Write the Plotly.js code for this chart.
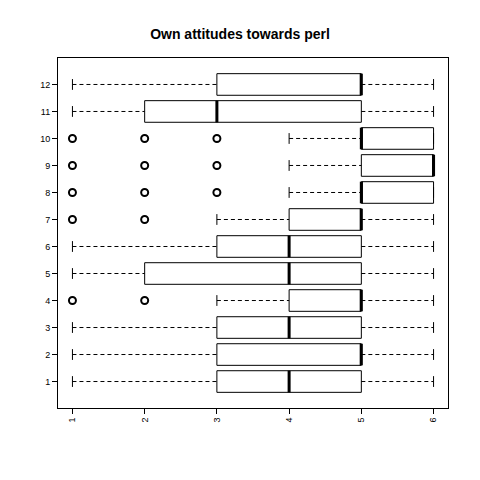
<!DOCTYPE html>
<html>
<head>
<script src="https://cdn.plot.ly/plotly-3.0.1.min.js"></script>
<style>body{margin:0;background:#fff}</style>
</head>
<body>
<div id="plot" style="width:480px;height:480px"></div>
<script>
var groups = [1, 2, 3, 4, 5, 6, 7, 8, 9, 10, 11, 12];
var lowWhisker = [1, 1, 1, 3, 1, 1, 3, 4, 4, 4, 1, 1];
var q1 = [3, 3, 3, 4, 2, 3, 4, 5, 5, 5, 2, 3];
var medians = [4, 5, 4, 5, 4, 4, 5, 5, 6, 5, 3, 5];
var q3 = [5, 5, 5, 5, 5, 5, 5, 6, 6, 6, 5, 5];
var highWhisker = [6, 6, 6, 6, 6, 6, 6, 6, 6, 6, 6, 6];
var outliers = [[], [], [], [1, 2], [], [], [1, 2], [1, 2, 3], [1, 2, 3], [1, 2, 3], [], []];

var boxHalf = 0.4, capHalf = 0.2;
var wx = [], wy = [], cx = [], cy = [], mx = [], my = [], ox = [], oy = [];
groups.forEach(function (g, i) {
  wx.push(lowWhisker[i], q1[i], null, q3[i], highWhisker[i], null);
  wy.push(g, g, null, g, g, null);
  cx.push(lowWhisker[i], lowWhisker[i], null, highWhisker[i], highWhisker[i], null);
  cy.push(g - capHalf, g + capHalf, null, g - capHalf, g + capHalf, null);
  mx.push(medians[i], medians[i], null);
  my.push(g - boxHalf, g + boxHalf, null);
  outliers[i].forEach(function (v) { ox.push(v); oy.push(g); });
});

var data = [
  {type: 'box', orientation: 'h', y: groups, q1: q1, median: medians, q3: q3,
   lowerfence: q1, upperfence: q3, width: 0.8, fillcolor: 'rgba(0,0,0,0)',
   line: {color: 'black', width: 1}, whiskerwidth: 0, boxpoints: false, hoverinfo: 'skip'},
  {type: 'scatter', mode: 'lines', x: wx, y: wy, line: {color: 'black', width: 1, dash: '4px,3px'}},
  {type: 'scatter', mode: 'lines', x: cx, y: cy, line: {color: 'black', width: 1}},
  {type: 'scatter', mode: 'lines', x: mx, y: my, line: {color: 'black', width: 3}},
  {type: 'scatter', mode: 'markers', x: ox, y: oy,
   marker: {symbol: 'circle-open', size: 7, color: 'black', line: {width: 2}}}
];

var layout = {
  width: 480, height: 480, showlegend: false,
  margin: {l: 58, r: 32, t: 58, b: 72},
  paper_bgcolor: 'white', plot_bgcolor: 'white',
  font: {family: 'Liberation Sans, Arial, sans-serif', size: 9, color: 'black'},
  title: {text: '<b>Own attitudes towards perl</b>', x: 0.5, xanchor: 'center', y: 0.94,
          font: {size: 14}},
  xaxis: {range: [0.8, 6.2], tickvals: [1, 2, 3, 4, 5, 6], tickangle: -90,
          showgrid: false, zeroline: false, showline: true, mirror: true, linecolor: 'black',
          ticks: 'outside', ticklen: 5, tickcolor: 'black'},
  yaxis: {range: [0.02, 12.98], tickvals: groups, showgrid: false, zeroline: false,
          showline: true, mirror: true, linecolor: 'black',
          ticks: 'outside', ticklen: 5, tickcolor: 'black'}
};

Plotly.newPlot('plot', data, layout, {staticPlot: true});
</script>
</body>
</html>
